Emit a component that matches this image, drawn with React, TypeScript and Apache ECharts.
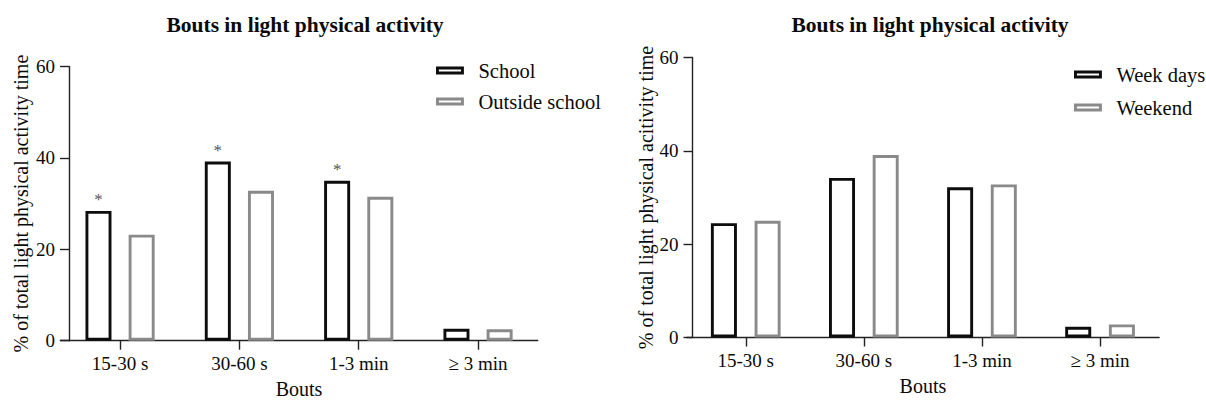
import React, { useEffect, useRef } from "react";
import * as echarts from "echarts";

const categories = ["15-30 s", "30-60 s", "1-3 min", "≥ 3 min"];
const schoolValues = [28.4, 39.2, 35.0, 2.6];
const outsideSchoolValues = [23.2, 32.8, 31.5, 2.5];
const schoolSignificant = [true, true, true, false];
const weekDaysValues = [24.5, 34.2, 32.2, 2.3];
const weekendValues = [25.0, 39.1, 32.8, 2.8];
const yTicks = { min: 0, max: 60, interval: 20 };

const titleText = "Bouts in light physical activity";
const leftYName = "% of total light physical activity time";
const rightYName = "% of total light physical acitivity time";
const xName = "Bouts";

const FONT = "'Liberation Serif', 'Times New Roman', Times, serif";
const BLACK = "#0d0d0d";
const GREY = "#8a8a8a";
const TEXT = "#0a0a0a";
const AXIS = "#222";

export default function App() {
  const ref = useRef<HTMLDivElement>(null);
  useEffect(() => {
    if (!ref.current) return;
    const chart = echarts.init(ref.current, undefined, { renderer: "svg" });
    const axisText = { fontFamily: FONT, fontSize: 20, color: TEXT };
    const yAxisBase = (gridIndex: number, name: string, offset: number, nameGap: number) => ({
      type: "value" as const,
      gridIndex,
      min: yTicks.min,
      max: yTicks.max,
      interval: yTicks.interval,
      offset,
      name,
      nameLocation: "middle" as const,
      nameGap,
      nameTextStyle: { ...axisText, fontSize: 20 },
      axisLine: { show: true, lineStyle: { color: AXIS, width: 1.4 } },
      axisTick: { show: true, length: 9, lineStyle: { color: AXIS, width: 1.4 } },
      axisLabel: { ...axisText, fontSize: 19, margin: 14 },
      splitLine: { show: false },
    });
    const xAxisBase = (gridIndex: number) => ({
      type: "category" as const,
      gridIndex,
      data: categories,
      boundaryGap: true,
      name: xName,
      nameLocation: "middle" as const,
      nameGap: 38,
      nameTextStyle: { ...axisText },
      axisLine: { show: true, lineStyle: { color: AXIS, width: 1.4 } },
      axisTick: { show: true, alignWithLabel: true, length: 9, lineStyle: { color: AXIS, width: 1.4 } },
      axisLabel: { ...axisText, fontSize: 19, margin: 13 },
    });
    const barStyle = (c: string) => ({ color: "#ffffff", borderColor: c, borderWidth: 2.9 });
    const legendBase = (left: number, top: number, gap: number, pad: number, names: string[]) => ({
      left,
      top,
      padding: 0,
      orient: "vertical" as const,
      itemWidth: 25,
      itemHeight: 5,
      itemGap: gap,
      icon: "rect",
      textStyle: { fontFamily: FONT, fontSize: 20.5, color: TEXT, padding: [0, 0, 0, pad] },
      data: names.map((n, i) => ({
        name: n,
        itemStyle: { color: "#fff", borderColor: i === 0 ? BLACK : GREY, borderWidth: 2.9 },
      })),
    });

    chart.setOption({
      animation: false,
      backgroundColor: "#ffffff",
      title: [
        {
          text: titleText,
          left: 300,
          top: 9,
          textAlign: "center",
          textStyle: { fontFamily: FONT, fontSize: 21.5, fontWeight: "bold", color: TEXT },
        },
        {
          text: titleText,
          left: 925,
          top: 9,
          textAlign: "center",
          textStyle: { fontFamily: FONT, fontSize: 21.5, fontWeight: "bold", color: TEXT },
        },
      ],
      legend: [
        legendBase(436, 60, 10, 11, ["School", "Outside school"]),
        legendBase(1074, 64, 12, 11, ["Week days", "Weekend"]),
      ],
      grid: [
        { left: 60.4, top: 66.5, width: 477.3, height: 274.2, containLabel: false },
        { left: 686.7, top: 57.5, width: 472.4, height: 280, containLabel: false },
      ],
      xAxis: [xAxisBase(0), xAxisBase(1)],
      yAxis: [yAxisBase(0, leftYName, -8.6, 38), yAxisBase(1, rightYName, -5.8, 34)],
      series: [
        {
          name: "School",
          type: "bar",
          xAxisIndex: 0,
          yAxisIndex: 0,
          barWidth: 26,
          barGap: "66%",
          itemStyle: barStyle(BLACK),
          data: schoolValues.map((v, i) => ({
            value: v,
            label: {
              show: schoolSignificant[i],
              position: "top",
              distance: 3,
              formatter: "*",
              fontFamily: FONT,
              fontSize: 17,
              color: "#555",
            },
          })),
        },
        {
          name: "Outside school",
          type: "bar",
          xAxisIndex: 0,
          yAxisIndex: 0,
          barWidth: 26,
          barGap: "66%",
          itemStyle: barStyle(GREY),
          data: outsideSchoolValues,
        },
        {
          name: "Week days",
          type: "bar",
          xAxisIndex: 1,
          yAxisIndex: 1,
          barWidth: 26,
          barGap: "68%",
          itemStyle: barStyle(BLACK),
          data: weekDaysValues,
        },
        {
          name: "Weekend",
          type: "bar",
          xAxisIndex: 1,
          yAxisIndex: 1,
          barWidth: 26,
          barGap: "68%",
          itemStyle: barStyle(GREY),
          data: weekendValues,
        },
      ],
    });
    return () => chart.dispose();
  }, []);
  return (
    <div
      ref={ref}
      style={{ position: "fixed", left: 0, top: 0, width: 1206, height: 406, background: "#fff" }}
    />
  );
}
